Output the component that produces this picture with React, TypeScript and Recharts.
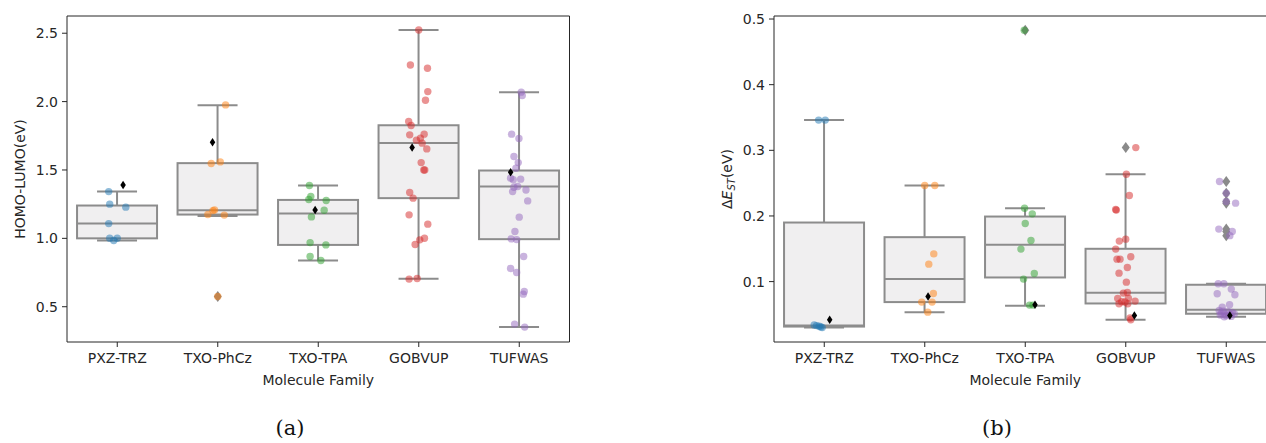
import React from 'react'
import { ComposedChart, Bar, Scatter, XAxis, YAxis, ReferenceLine } from 'recharts'

const families = ['PXZ-TRZ', 'TXO-PhCz', 'TXO-TPA', 'GOBVUP', 'TUFWAS']
const familyColors = ['#1f77b4', '#ff7f0e', '#2ca02c', '#d62728', '#9467bd']

// (a) HOMO-LUMO gap (eV), strip points + jitter in category units
const gapPXZ = [1.342, 1.25, 1.228, 1.108, 1.001, 0.984, 1.001]
const gapPXZJit = [-0.085, -0.075, 0.085, -0.085, -0.075, -0.035, 0.0]
const gapPhCz = [1.976, 1.559, 1.547, 1.208, 1.203, 1.174, 1.17, 0.575]
const gapPhCzJit = [0.078, 0.025, -0.065, -0.032, -0.048, -0.098, 0.065, 0.0]
const gapTPA = [1.386, 1.306, 1.284, 1.277, 1.206, 1.157, 0.969, 0.952, 0.867, 0.838]
const gapTPAJit = [-0.088, -0.074, -0.094, 0.079, 0.059, -0.068, -0.081, 0.076, -0.081, 0.026]
const gapGOB = [2.524, 2.268, 2.244, 2.073, 2.01, 1.854, 1.825, 1.762, 1.757, 1.732, 1.718, 1.696, 1.654, 1.554, 1.5, 1.5, 1.335, 1.294, 1.172, 1.104, 1.001, 0.989, 0.955, 0.706, 0.702]
const gapGOBJit = [0, -0.083, 0.087, 0.09, 0.067, -0.1, -0.076, 0.054, -0.09, 0.017, -0.023, 0.034, 0.08, 0.024, 0.05, 0.06, -0.09, -0.056, -0.096, 0.09, 0.057, 0.01, -0.036, -0.016, -0.096]
const gapTUF = [2.069, 2.044, 1.762, 1.73, 1.598, 1.554, 1.513, 1.44, 1.433, 1.428, 1.379, 1.374, 1.354, 1.342, 1.274, 1.155, 1.05, 0.996, 0.991, 0.867, 0.78, 0.75, 0.611, 0.592, 0.373, 0.351]
const gapTUFJit = [0.02, 0.03, -0.076, -0.003, -0.053, -0.01, -0.033, -0.086, 0.014, -0.06, -0.016, -0.053, 0.067, -0.066, 0.084, 0, -0.043, -0.08, -0.026, 0.044, -0.086, -0.026, 0.05, 0.04, -0.046, 0.054]

const gapWhiskerLow = [0.985, 1.163, 0.838, 0.704, 0.351]
const gapQ1 = [1.0, 1.174, 0.952, 1.294, 0.994]
const gapMedian = [1.108, 1.205, 1.181, 1.697, 1.379]
const gapQ3 = [1.24, 1.55, 1.281, 1.827, 1.496]
const gapWhiskerHigh = [1.342, 1.974, 1.386, 2.524, 2.069]
const gapMean = [1.391, 1.703, 1.208, 1.664, 1.484]
const gapMeanJit = [0.058, -0.052, -0.031, -0.066, -0.086]
const gapFlierFamily = [1]
const gapFlierValue = [0.575]
const gapTicks = [0.5, 1.0, 1.5, 2.0, 2.5]

// (b) singlet-triplet gap (eV)
const dstPXZ = [0.346, 0.346, 0.034, 0.033, 0.032, 0.031, 0.03]
const dstPXZJit = [-0.056, 0.01, -0.1, -0.076, -0.05, -0.035, -0.02]
const dstPhCz = [0.2463, 0.2463, 0.1423, 0.1266, 0.0819, 0.0688, 0.0688, 0.0535]
const dstPhCzJit = [0, 0.1, 0.09, 0.04, 0.086, -0.03, 0.073, 0.03]
const dstTPA = [0.4828, 0.2118, 0.2032, 0.1885, 0.1626, 0.1495, 0.1124, 0.1038, 0.0642, 0.0642]
const dstTPAJit = [-0.01, -0.007, 0.07, 0, 0.057, -0.043, 0.09, -0.017, 0.043, 0.077]
const dstGOB = [0.3041, 0.2636, 0.2311, 0.2098, 0.2089, 0.1647, 0.1617, 0.1495, 0.1378, 0.1342, 0.1342, 0.1215, 0.1129, 0.0992, 0.0835, 0.0825, 0.0748, 0.0743, 0.0703, 0.0693, 0.069, 0.0662, 0.0662, 0.0445, 0.0419]
const dstGOBJit = [0.1, 0.006, 0.036, -0.1, -0.094, 0, -0.064, -0.1, 0.05, -0.087, -0.057, 0.016, -0.067, 0.006, 0.016, -0.024, 0.026, -0.08, 0.093, -0.04, -0.007, -0.067, 0.02, 0.043, 0.05]
const dstTUF = [0.2524, 0.2347, 0.222, 0.2195, 0.18, 0.1763, 0.17, 0.0967, 0.0967, 0.0886, 0.0814, 0.08, 0.0647, 0.0612, 0.056, 0.055, 0.054, 0.053, 0.052, 0.051, 0.0505, 0.05, 0.049, 0.048, 0.047, 0.0465]
const dstTUFJit = [-0.067, 0, 0, 0.093, -0.074, 0.06, 0.036, -0.08, -0.024, 0.05, -0.09, 0.086, 0.033, -0.04, -0.07, -0.03, 0.02, 0.06, -0.05, 0.08, -0.01, 0.04, -0.06, 0, 0.05, -0.02]

const dstWhiskerLow = [0.03, 0.0535, 0.0632, 0.0419, 0.0465]
const dstQ1 = [0.0315, 0.0688, 0.1063, 0.0667, 0.051]
const dstMedian = [0.033, 0.1038, 0.156, 0.0829, 0.0571]
const dstQ3 = [0.19, 0.1677, 0.1991, 0.15, 0.0952]
const dstWhiskerHigh = [0.346, 0.2463, 0.2118, 0.2636, 0.0967]
const dstMean = [0.0419, 0.0773, 0.0647, 0.0484, 0.0484]
const dstMeanJit = [0.054, 0.033, 0.097, 0.086, 0.036]
const dstFlierFamily = [2, 3, 4, 4, 4, 4, 4, 4, 4]
const dstFlierValue = [0.4828, 0.3041, 0.2524, 0.2347, 0.222, 0.2195, 0.18, 0.1763, 0.17]
const dstTicks = [0.1, 0.2, 0.3, 0.4, 0.5]

const ink = '#262626'
const boxEdge = '#8c8c8c'
const boxFill = '#f0eff0'
const sans = '"DejaVu Sans", sans-serif'
const xDomain: [number, number] = [-0.5, 4.5]

const boxRows = (lo: number[], q1: number[], med: number[], q3: number[], hi: number[]) =>
  families.map((name, i) => ({ name, whisker: [lo[i], hi[i]], lo: lo[i], q1: q1[i], med: med[i], q3: q3[i], hi: hi[i] }))

const stripRows = (values: number[], jitter: number[], i: number) =>
  values.map((y, k) => ({ x: i + jitter[k], y }))

// box + whiskers, positioned by the bar's own mapped [lo, hi] range
const BoxShape = (props: any) => {
  const { x, y, width, height, payload } = props
  const { lo, q1, med, q3, hi } = payload
  const py = (v: number) => y + ((hi - v) / (hi - lo)) * height
  const cx = x + width / 2
  const cap = width / 4
  return (
    <g stroke={boxEdge} strokeWidth={2}>
      <line x1={cx} x2={cx} y1={py(hi)} y2={py(q3)} />
      <line x1={cx} x2={cx} y1={py(q1)} y2={py(lo)} />
      <line x1={cx - cap} x2={cx + cap} y1={py(hi)} y2={py(hi)} />
      <line x1={cx - cap} x2={cx + cap} y1={py(lo)} y2={py(lo)} />
      <rect x={x} y={py(q3)} width={width} height={py(q1) - py(q3)} fill={boxFill} />
      <line x1={x} x2={x + width} y1={py(med)} y2={py(med)} />
    </g>
  )
}

const diamond = (cx: number, cy: number, w: number, h: number) =>
  `M${cx},${cy - h / 2} L${cx + w / 2},${cy} L${cx},${cy + h / 2} L${cx - w / 2},${cy} Z`

interface PanelProps {
  width: number
  yAxisWidth: number
  marginRight: number
  domain: [number, number]
  ticks: number[]
  rows: ReturnType<typeof boxRows>
  strips: [number[], number[]][]
  mean: number[]
  meanJit: number[]
  flierFamily: number[]
  flierValue: number[]
  yLabel: (viewBox: any) => React.ReactNode
}

function Panel(p: PanelProps) {
  const fliers = p.flierFamily.map((f, k) => ({ x: f, y: p.flierValue[k] }))
  const means = p.mean.map((y, i) => ({ x: i + p.meanJit[i], y }))
  return (
    <ComposedChart
      width={p.width}
      height={400}
      data={p.rows}
      margin={{ top: 16, right: p.marginRight, bottom: 0, left: 0 }}
      barCategoryGap="10%"
    >
      <XAxis
        xAxisId="cat"
        dataKey="name"
        height={58}
        tickSize={5}
        tickMargin={6}
        stroke={ink}
        tick={{ fill: ink, fontSize: 14, fontFamily: sans }}
        label={{ value: 'Molecule Family', position: 'insideBottom', offset: 15, fill: ink, fontSize: 14, fontFamily: sans }}
      />
      <XAxis xAxisId="pts" type="number" dataKey="x" domain={xDomain} allowDataOverflow hide />
      <YAxis
        type="number"
        domain={p.domain}
        allowDataOverflow
        ticks={p.ticks}
        tickFormatter={(v: number) => v.toFixed(1)}
        width={p.yAxisWidth}
        tickSize={5}
        tickMargin={4}
        stroke={ink}
        tick={{ fill: ink, fontSize: 14, fontFamily: sans }}
        label={{ content: (lp: any) => p.yLabel(lp.viewBox) }}
      />
      {/* top and right frame of the axes box */}
      <ReferenceLine xAxisId="pts" y={p.domain[1]} stroke={ink} strokeWidth={1} ifOverflow="visible" />
      <ReferenceLine xAxisId="pts" x={xDomain[1]} stroke={ink} strokeWidth={1} ifOverflow="visible" />
      <Bar xAxisId="cat" dataKey="whisker" shape={<BoxShape />} isAnimationActive={false} />
      <Scatter
        xAxisId="pts"
        data={fliers}
        dataKey="y"
        isAnimationActive={false}
        shape={(s: any) => <path d={diamond(s.cx, s.cy, 8, 11)} fill="#8a8a8a" />}
      />
      {p.strips.map(([vals, jit], i) => (
        <Scatter
          key={families[i]}
          xAxisId="pts"
          data={stripRows(vals, jit, i)}
          dataKey="y"
          isAnimationActive={false}
          shape={(s: any) => <circle cx={s.cx} cy={s.cy} r={3.7} fill={familyColors[i]} fillOpacity={0.5} />}
        />
      ))}
      <Scatter
        xAxisId="pts"
        data={means}
        dataKey="y"
        isAnimationActive={false}
        shape={(s: any) => <path d={diamond(s.cx, s.cy, 5.5, 8.5)} fill="#000" />}
      />
    </ComposedChart>
  )
}

const gapLabel = (vb: any) => (
  <text transform={`translate(${vb.x + 25},${vb.y + vb.height / 2}) rotate(-90)`} textAnchor="middle" fontSize={14} fontFamily={sans} fill={ink}>
    HOMO-LUMO(eV)
  </text>
)

const dstLabel = (vb: any) => (
  <text transform={`translate(${vb.x + 52},${vb.y + vb.height / 2}) rotate(-90)`} textAnchor="middle" fontSize={14} fontFamily={sans} fill={ink}>
    Δ<tspan fontStyle="italic">E</tspan>
    <tspan fontSize={10} fontStyle="italic" dy={3}>ST</tspan>
    <tspan dy={-3}>(eV)</tspan>
  </text>
)

const caption: React.CSSProperties = {
  position: 'absolute',
  top: 416,
  width: 60,
  textAlign: 'center',
  fontFamily: '"DejaVu Serif", serif',
  fontSize: 21,
  color: '#111',
}

export default function App() {
  return (
    <div style={{ position: 'fixed', left: 0, top: 0, width: 1266, height: 443, overflow: 'hidden', background: '#fff' }}>
      <div style={{ position: 'absolute', left: 0, top: 0 }}>
        <Panel
          width={600}
          yAxisWidth={67}
          marginRight={30.5}
          domain={[0.242, 2.626]}
          ticks={gapTicks}
          rows={boxRows(gapWhiskerLow, gapQ1, gapMedian, gapQ3, gapWhiskerHigh)}
          strips={[[gapPXZ, gapPXZJit], [gapPhCz, gapPhCzJit], [gapTPA, gapTPAJit], [gapGOB, gapGOBJit], [gapTUF, gapTUFJit]]}
          mean={gapMean}
          meanJit={gapMeanJit}
          flierFamily={gapFlierFamily}
          flierValue={gapFlierValue}
          yLabel={gapLabel}
        />
      </div>
      <div style={{ position: 'absolute', left: 680, top: 0 }}>
        <Panel
          width={620}
          yAxisWidth={94}
          marginRight={23.5}
          domain={[0.008, 0.5046]}
          ticks={dstTicks}
          rows={boxRows(dstWhiskerLow, dstQ1, dstMedian, dstQ3, dstWhiskerHigh)}
          strips={[[dstPXZ, dstPXZJit], [dstPhCz, dstPhCzJit], [dstTPA, dstTPAJit], [dstGOB, dstGOBJit], [dstTUF, dstTUFJit]]}
          mean={dstMean}
          meanJit={dstMeanJit}
          flierFamily={dstFlierFamily}
          flierValue={dstFlierValue}
          yLabel={dstLabel}
        />
      </div>
      <div style={{ ...caption, left: 260 }}>(a)</div>
      <div style={{ ...caption, left: 967 }}>(b)</div>
    </div>
  )
}
